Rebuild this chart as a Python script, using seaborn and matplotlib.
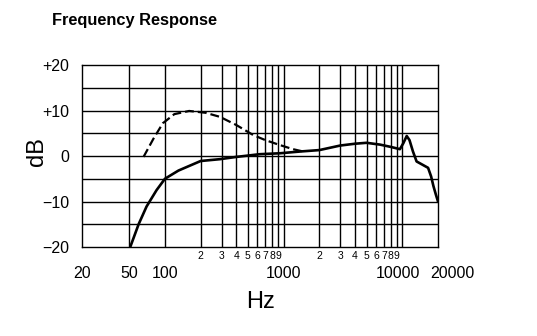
import matplotlib
matplotlib.use("Agg")
import matplotlib.pyplot as plt
import matplotlib.transforms as mtransforms
import numpy as np
import pandas as pd
import seaborn as sns

# Response curves (frequency in Hz, level in dB)
solid_freq = [51, 60, 70, 85, 100, 130, 200, 290, 400, 631, 931, 1400, 2000, 3000,
              4000, 5000, 6500, 8000, 9550, 10200, 10900, 11500, 12300, 13200,
              15000, 16500, 17500, 18300, 19200, 20000]
solid_db = [-20, -15, -11.1, -7.5, -5, -3.2, -1.1, -0.7, -0.2, 0.4, 0.6, 1.0, 1.3, 2.3,
            2.7, 2.9, 2.5, 2.0, 1.5, 2.8, 4.4, 3.5, 1.0, -1.2,
            -2.0, -2.6, -4.5, -6.6, -8.5, -10]
dashed_freq = [66, 80, 96, 120, 160, 220, 291, 400, 555, 700, 931, 1200, 1455]
dashed_db = [-0.2, 3.8, 7.2, 9.2, 9.9, 9.5, 8.6, 6.8, 4.6, 3.5, 2.4, 1.5, 1.0]

# Axis labelling
major_ticks = [20, 50, 100, 1000, 10000, 20000]
major_labels = ["20", "50", "100", "1000", "10000", "20000"]
minor_ticks = [200, 300, 400, 500, 600, 700, 800, 900,
               2000, 3000, 4000, 5000, 6000, 7000, 8000, 9000]
minor_labels = ["2", "3", "4", "5", "6", "7", "8", "9"] * 2
y_ticks = [-20, -10, 0, 10, 20]
y_labels = ["\u221220", "\u221210", "0", "+10", "+20"]
y_grid = [-15, -5, 5, 15]

sns.set_style("white")
plt.rcParams["font.family"] = ["Liberation Sans", "DejaVu Sans"]
plt.rcParams.update({"text.color": "black", "axes.labelcolor": "black",
                     "xtick.color": "black", "ytick.color": "black"})

fig = plt.figure(figsize=(5.37, 3.36), dpi=100)
ax = fig.add_axes([82 / 537, 1 - 247 / 336, (438 - 82) / 537, (247 - 65) / 336])

solid = pd.DataFrame({"Hz": solid_freq, "dB": solid_db})
dashed = pd.DataFrame({"Hz": dashed_freq, "dB": dashed_db})

ax.set_xscale("log")
ax.set_xlim(20, 20000)
ax.set_ylim(-20, 20)

# grid
grid_kw = dict(color="black", lw=1.0, zorder=1)
for f in major_ticks[1:-1] + minor_ticks:
    ax.axvline(f, **grid_kw)
for v in y_ticks[1:-1] + y_grid:
    ax.axhline(v, **grid_kw)

sns.lineplot(data=solid, x="Hz", y="dB", ax=ax, color="black", lw=1.9,
             sort=False, estimator=None, zorder=3)
sns.lineplot(data=dashed, x="Hz", y="dB", ax=ax, color="black", lw=1.6,
             sort=False, estimator=None, zorder=3)
ax.lines[-1].set_dashes([4, 1.8])

ax.set_xticks(major_ticks, labels=major_labels)
ax.set_xticks(minor_ticks, labels=minor_labels, minor=True)
ax.tick_params(axis="x", which="major", length=0, pad=14, labelsize=11.5)
ax.tick_params(axis="x", which="minor", length=0, pad=3, labelsize=7.5)
ax.set_yticks(y_ticks, labels=y_labels)
ax.tick_params(axis="y", length=0, pad=9, labelsize=11.5)

# slight horizontal nudges on the last two frequency labels
lbls = ax.get_xticklabels()
lbls[4].set_transform(lbls[4].get_transform() +
                      mtransforms.ScaledTranslation(-4 / 100, 0, fig.dpi_scale_trans))
lbls[5].set_transform(lbls[5].get_transform() +
                      mtransforms.ScaledTranslation(14 / 100, 0, fig.dpi_scale_trans))

for s in ax.spines.values():
    s.set_color("black")
    s.set_linewidth(1.0)
    s.set_visible(True)

ax.set_xlabel("")
ax.set_ylabel("")
fig.text(260 / 537, 1 - 302 / 336, "Hz", ha="center", va="center", fontsize=17)
fig.text(37 / 537, 1 - 152 / 336, "dB", ha="center", va="center", fontsize=17,
         rotation=90)
fig.text(52 / 537, 1 - 25 / 336, "Frequency Response", ha="left", va="baseline",
         fontsize=11.8, fontweight="bold")

fig.savefig("out.png", dpi=100, facecolor="white")
